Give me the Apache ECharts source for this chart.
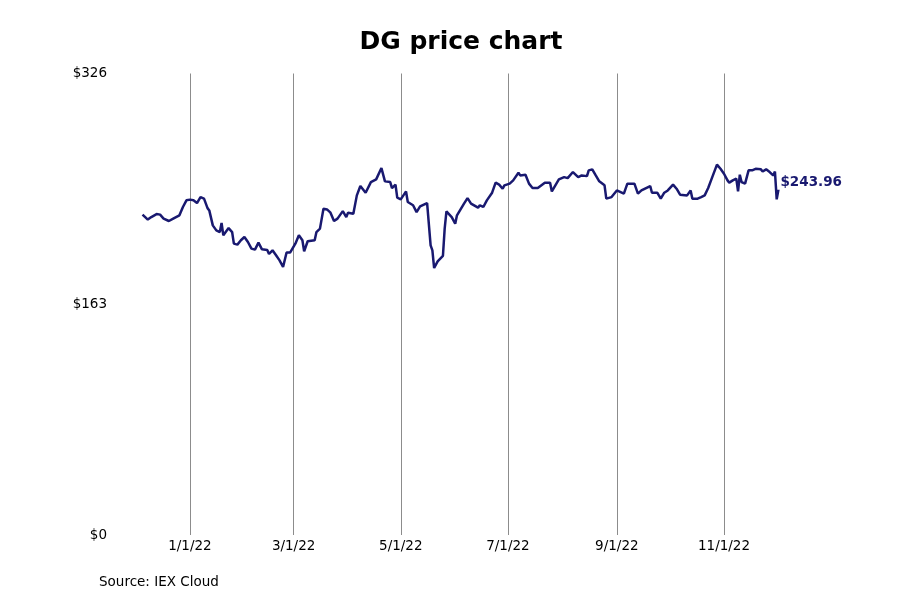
<!DOCTYPE html>
<html>
<head>
<meta charset="utf-8">
<script src="https://cdn.jsdelivr.net/npm/echarts@6/dist/echarts.min.js"></script>
<style>html,body{margin:0;padding:0;background:#fff}#c{width:900px;height:600px}</style>
</head>
<body>
<div id="c"></div>
<script>
const dates = [
'2021-12-05','2021-12-08','2021-12-10','2021-12-13','2021-12-15','2021-12-17','2021-12-20','2021-12-21','2021-12-23','2021-12-26','2021-12-28','2021-12-30',
'2022-01-01','2022-01-03','2022-01-05','2022-01-07','2022-01-09','2022-01-11','2022-01-12','2022-01-14','2022-01-16','2022-01-18','2022-01-19','2022-01-20','2022-01-23','2022-01-25','2022-01-26','2022-01-28','2022-01-30',
'2022-02-01','2022-02-03','2022-02-05','2022-02-07','2022-02-09','2022-02-11','2022-02-14','2022-02-15','2022-02-17','2022-02-19','2022-02-21','2022-02-23','2022-02-25','2022-02-27',
'2022-03-02','2022-03-04','2022-03-06','2022-03-07','2022-03-09','2022-03-10','2022-03-13','2022-03-14','2022-03-16','2022-03-18','2022-03-20','2022-03-22','2022-03-24','2022-03-26','2022-03-29','2022-03-31',
'2022-04-01','2022-04-04','2022-04-06','2022-04-08','2022-04-11','2022-04-14','2022-04-17','2022-04-20','2022-04-22','2022-04-25','2022-04-26','2022-04-28','2022-04-29',
'2022-05-01','2022-05-04','2022-05-05','2022-05-08','2022-05-10','2022-05-12','2022-05-16','2022-05-18','2022-05-19','2022-05-20','2022-05-22','2022-05-25','2022-05-26','2022-05-27','2022-05-30',
'2022-06-01','2022-06-02','2022-06-06','2022-06-08','2022-06-10','2022-06-14','2022-06-15','2022-06-17','2022-06-19','2022-06-22','2022-06-24','2022-06-26','2022-06-28','2022-06-29',
'2022-07-02','2022-07-04','2022-07-07','2022-07-08','2022-07-11','2022-07-13','2022-07-14','2022-07-15','2022-07-18','2022-07-22','2022-07-25','2022-07-26','2022-07-28','2022-07-30',
'2022-08-02','2022-08-04','2022-08-07','2022-08-10','2022-08-12','2022-08-15','2022-08-16','2022-08-18','2022-08-20','2022-08-22','2022-08-25','2022-08-26','2022-08-29','2022-08-30',
'2022-09-01','2022-09-05','2022-09-07','2022-09-11','2022-09-13','2022-09-15','2022-09-20','2022-09-21','2022-09-24','2022-09-26','2022-09-28','2022-09-30',
'2022-10-03','2022-10-05','2022-10-07','2022-10-11','2022-10-13','2022-10-14','2022-10-17','2022-10-19','2022-10-21','2022-10-23','2022-10-25','2022-10-26','2022-10-28','2022-10-30',
'2022-11-01','2022-11-03','2022-11-04','2022-11-06','2022-11-08','2022-11-09','2022-11-10','2022-11-11','2022-11-13','2022-11-14','2022-11-15','2022-11-17','2022-11-19','2022-11-22','2022-11-23','2022-11-25','2022-11-27','2022-11-29','2022-11-30','2022-12-01','2022-12-02'
];
const prices = [
226.3,222.8,224.6,226.7,226.3,223.5,221.8,222.1,223.9,225.8,231.7,236.4,
236.9,236.4,234.5,238.7,237.6,230.9,229.3,218.7,215.2,214.0,220.4,211.7,216.8,214.0,205.8,205.1,208.2,
210.5,207.0,202.3,201.6,206.5,201.8,201.3,198.5,201.1,197.6,194.0,189.3,199.5,199.5,
205.8,211.7,208.2,200.4,207.5,206.5,208.2,214.0,216.4,230.5,230.0,227.7,221.8,223.5,228.8,224.6,
227.7,227.0,239.9,246.5,241.8,249.3,251.2,259.2,249.8,249.3,245.1,247.5,238.3,
237.1,242.7,235.2,232.9,228.1,232.1,234.5,204.6,201.1,188.6,193.3,197.1,216.4,228.6,224.6,
219.9,225.8,234.1,238.0,234.1,231.2,232.9,231.7,236.4,241.8,248.9,247.5,244.6,247.0,
248.2,250.5,255.9,254.0,254.5,248.2,248.9,245.1,245.1,248.9,248.9,242.7,247.0,251.2,
252.8,252.1,256.4,252.8,254.0,253.5,257.6,258.3,254.0,249.8,247.0,237.6,238.7,238.0,
243.4,241.1,248.2,248.2,241.1,243.4,246.5,241.8,241.8,237.6,241.8,243.4,
247.5,244.6,240.4,239.9,243.4,237.6,237.6,238.7,239.9,245.1,251.7,252.1,261.6,258.7,
255.2,250.5,248.9,250.5,251.7,242.7,254.5,249.3,248.2,247.5,257.6,257.6,258.7,258.3,256.8,258.3,256.4,254.0,256.8,237.1,243.96
];
const xTickDates = ['2022-01-01','2022-03-01','2022-05-01','2022-07-01','2022-09-01','2022-11-01'];
const xRange = ['2021-12-01', '2022-12-31'];
const yTickValues = [0, 163, 326];
const titleText = 'DG price chart';
const sourceText = 'Source: IEX Cloud';

const FONT = '"DejaVu Sans", Verdana, sans-serif';
const LINE = '#191970';
const ts = d => echarts.time.parse(d).getTime();
const xTicks = xTickDates.map(ts);

const chart = echarts.init(document.getElementById('c'), null, {renderer: 'canvas'});
chart.setOption({
  animation: false,
  backgroundColor: '#fff',
  graphic: [
    {type: 'text', x: 461, y: 42, style: {text: titleText, font: 'bold 25px ' + FONT, fill: '#000', textAlign: 'center', textVerticalAlign: 'middle'}},
    {type: 'text', x: 99, y: 582, style: {text: sourceText, font: '13.5px ' + FONT, fill: '#000', textAlign: 'left', textVerticalAlign: 'middle'}}
  ],
  grid: {left: 135.5, right: 70.6, top: 73.5, bottom: 65, containLabel: false},
  xAxis: {
    type: 'value',
    min: ts(xRange[0]),
    max: ts(xRange[1]),
    axisLine: {show: false},
    axisTick: {show: false, customValues: xTicks},
    splitLine: {show: true, lineStyle: {color: '#8c8c8c', width: 1}},
    axisLabel: {
      customValues: xTicks,
      margin: 4,
      fontFamily: FONT, fontSize: 13.5, color: '#000',
      formatter: function (v) {
        const d = new Date(v);
        return (d.getMonth() + 1) + '/' + d.getDate() + '/' + String(d.getFullYear()).slice(2);
      }
    }
  },
  yAxis: {
    type: 'value',
    min: yTickValues[0],
    max: yTickValues[yTickValues.length - 1],
    interval: yTickValues[1] - yTickValues[0],
    axisLine: {show: false},
    axisTick: {show: false},
    splitLine: {show: false},
    axisLabel: {
      margin: 28.5,
      fontFamily: FONT, fontSize: 13.5, color: '#000',
      formatter: v => '$' + v
    }
  },
  series: [{
    type: 'line',
    data: dates.map((d, i) => [ts(d), prices[i]]),
    showSymbol: false,
    symbol: 'none',
    lineStyle: {color: LINE, width: 2.5},
    endLabel: {
      show: true,
      distance: 2,
      offset: [0, -7],
      formatter: p => '$' + p.value[1].toFixed(2),
      fontFamily: FONT, fontSize: 13.5, fontWeight: 'bold', color: LINE
    }
  }]
});
</script>
</body>
</html>
